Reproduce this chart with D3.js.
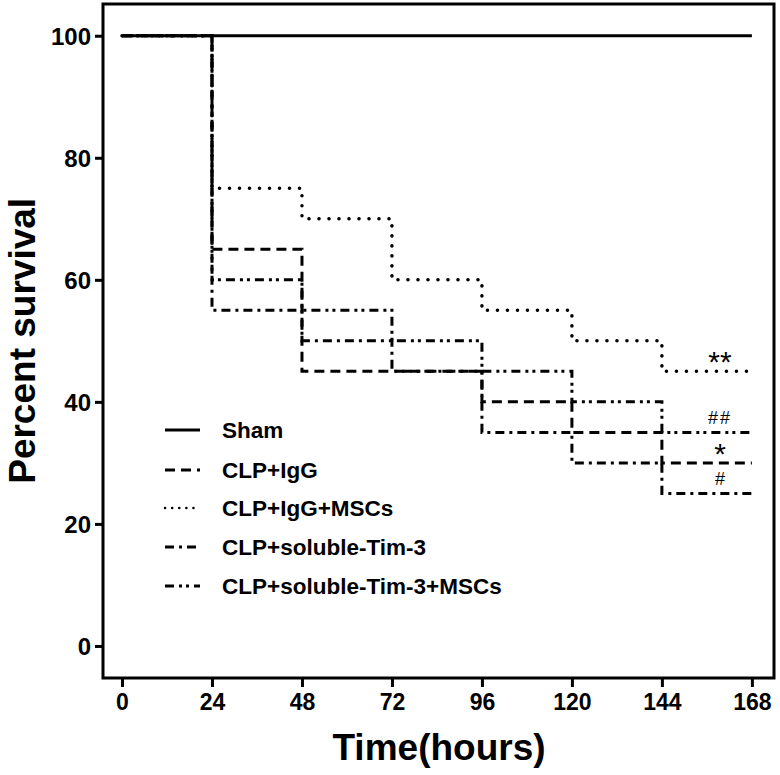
<!DOCTYPE html>
<html>
<head>
<meta charset="utf-8">
<script src="https://cdn.jsdelivr.net/npm/d3@7"></script>
<style>
  html, body { margin: 0; padding: 0; background: #fff; }
  svg { display: block; }
</style>
</head>
<body>
<svg id="chart" width="780" height="775"></svg>
<script>
// ---- data ----
const times = [0, 24, 48, 72, 96, 120, 144, 168];
const seriesNames = ["Sham", "CLP+IgG", "CLP+IgG+MSCs", "CLP+soluble-Tim-3", "CLP+soluble-Tim-3+MSCs"];
const sham      = [100, 100, 100, 100, 100, 100, 100, 100];
const clpIgG    = [100, 65, 45, 45, 40, 35, 30, 30];
const clpIgGMSC = [100, 75, 70, 60, 55, 50, 45, 45];
const clpTim3   = [100, 55, 50, 45, 35, 30, 25, 25];
const clpTim3MSC= [100, 60, 55, 50, 45, 40, 35, 35];
const xTicks = [0, 24, 48, 72, 96, 120, 144, 168];
const yTicks = [0, 20, 40, 60, 80, 100];
const annotations = [
  {text: "**", series: 2},
  {text: "##", series: 4},
  {text: "*",  series: 1},
  {text: "#",  series: 3}
];

const allSeries = [sham, clpIgG, clpIgGMSC, clpTim3, clpTim3MSC];
const dashes = [null, "10,6", "0.1,9.9", "9,5,3,5", "9,5,3,4,3,5"];
const FONT = "'Liberation Sans', Arial, Helvetica, sans-serif";

const svg = d3.select("#chart");
const x = d3.scaleLinear().domain([-5.07, 173.9]).range([103, 774]);
const y = d3.scaleLinear().domain([-5.25, 105.2]).range([678, 4]);

// frame
svg.append("rect")
  .attr("x", x(-5.07)).attr("y", y(105.2))
  .attr("width", x(173.9) - x(-5.07)).attr("height", y(-5.25) - y(105.2))
  .attr("fill", "none").attr("stroke", "#000").attr("stroke-width", 3);

// axes
const xAxis = svg.append("g").attr("transform", `translate(0,${y(-5.25)})`)
  .call(d3.axisBottom(x).tickValues(xTicks).tickSize(9).tickPadding(7).tickFormat(d3.format("d")));
const yAxis = svg.append("g").attr("transform", `translate(${x(-5.07)},0)`)
  .call(d3.axisLeft(y).tickValues(yTicks).tickSize(8).tickPadding(4).tickFormat(d3.format("d")));
[xAxis, yAxis].forEach(a => {
  a.select(".domain").remove();
  a.selectAll(".tick line").attr("stroke", "#000").attr("stroke-width", 3);
});
xAxis.selectAll(".tick text")
  .attr("font-family", FONT)
  .attr("font-weight", "bold").attr("font-size", 23).attr("fill", "#000");
yAxis.selectAll(".tick text")
  .attr("font-family", FONT)
  .attr("font-weight", "bold").attr("font-size", 24).attr("fill", "#000")
  .attr("dy", "0.36em");

// axis titles
svg.append("text")
  .attr("x", 439).attr("y", 760)
  .attr("text-anchor", "middle")
  .attr("font-family", FONT)
  .attr("font-weight", "bold").attr("font-size", 37)
  .text("Time(hours)");
svg.append("text")
  .attr("transform", `translate(35,${y(50)}) rotate(-90)`)
  .attr("text-anchor", "middle")
  .attr("font-family", FONT)
  .attr("font-weight", "bold").attr("font-size", 37)
  .text("Percent survival");

// survival curves
const line = d3.line()
  .x((d, i) => x(times[i]))
  .y(d => y(d))
  .curve(d3.curveStepAfter);

const order = [1, 2, 3, 4, 0];
order.forEach(k => {
  svg.append("path")
    .attr("d", line(allSeries[k]))
    .attr("fill", "none")
    .attr("stroke", "#000")
    .attr("stroke-width", k === 2 ? 3.5 : 3)
    .attr("stroke-dasharray", dashes[k])
    .attr("stroke-linecap", k === 2 ? "round" : "butt");
});

// annotations
annotations.forEach(a => {
  const last = allSeries[a.series][allSeries[a.series].length - 1];
  const big = a.text.indexOf("*") >= 0;
  svg.append("text")
    .attr("x", x(159.5))
    .attr("y", y(last) - (big ? -1 : 8))
    .attr("text-anchor", "middle")
    .attr("font-family", FONT)
    .attr("font-size", big ? 30 : 18)
    .attr("letter-spacing", a.text === "##" ? 2 : 0)
    .text(a.text);
});

// legend
const legY = [430, 470, 508, 547, 586];
seriesNames.forEach((name, k) => {
  svg.append("line")
    .attr("x1", 165).attr("x2", 200)
    .attr("y1", legY[k]).attr("y2", legY[k])
    .attr("stroke", "#000").attr("stroke-width", k === 2 ? 2.5 : 3)
    .attr("stroke-dasharray", k === 2 ? "0.1,7" : dashes[k])
    .attr("stroke-linecap", k === 2 ? "round" : "butt");
  svg.append("text")
    .attr("x", 222).attr("y", legY[k]).attr("dy", "0.36em")
    .attr("font-family", FONT)
    .attr("font-weight", "bold").attr("font-size", 22.5)
    .text(name);
});
</script>
</body>
</html>
